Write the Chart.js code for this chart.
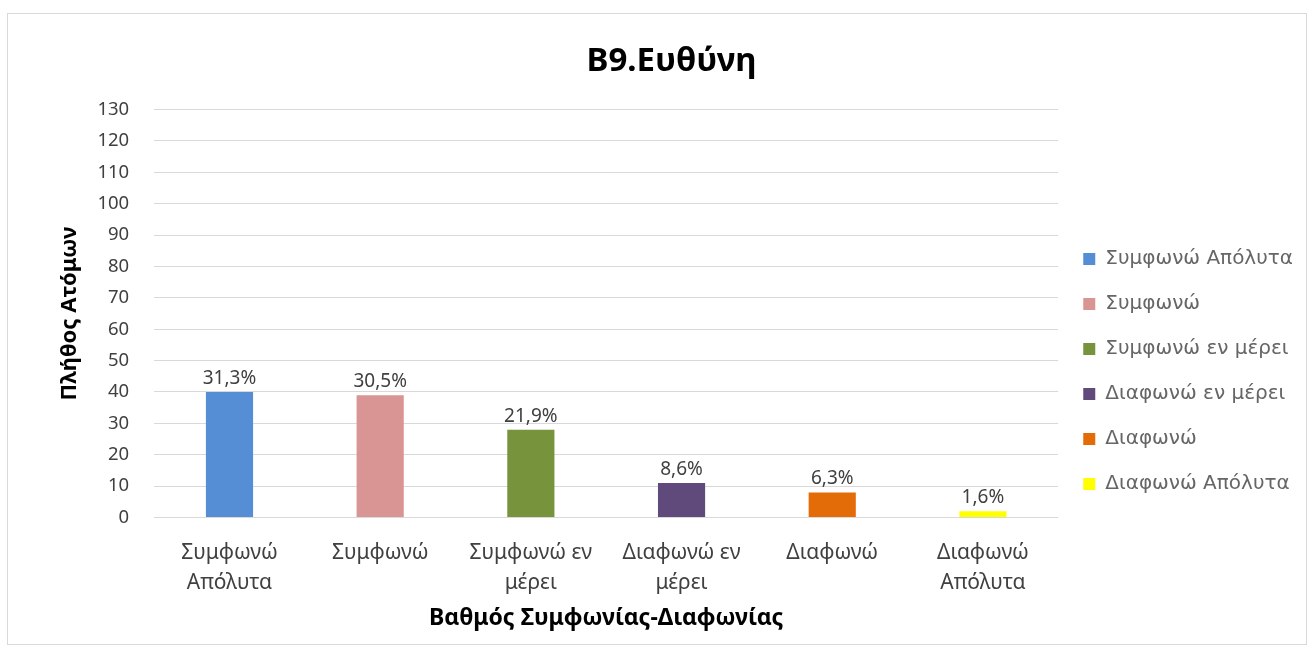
<!DOCTYPE html>
<html>
<head>
<meta charset="utf-8">
<script src="https://cdn.jsdelivr.net/npm/chart.js@4/dist/chart.umd.min.js"></script>
<style>
  html, body { margin: 0; padding: 0; background: #ffffff; }
  #wrap { width: 1314px; height: 652px; position: relative; }
</style>
</head>
<body>
<div id="wrap"><canvas id="c" width="1314" height="652"></canvas></div>
<script>
const chartTitle = 'B9.Ευθύνη';
const categories = [
  ['Συμφωνώ', 'Απόλυτα'],
  ['Συμφωνώ'],
  ['Συμφωνώ εν', 'μέρει'],
  ['Διαφωνώ εν', 'μέρει'],
  ['Διαφωνώ'],
  ['Διαφωνώ', 'Απόλυτα']
];
const legendLabels = ['Συμφωνώ Απόλυτα', 'Συμφωνώ', 'Συμφωνώ εν μέρει', 'Διαφωνώ εν μέρει', 'Διαφωνώ', 'Διαφωνώ Απόλυτα'];
const counts = [40, 39, 28, 11, 8, 2];
const percentLabels = ['31,3%', '30,5%', '21,9%', '8,6%', '6,3%', '1,6%'];
const barColors = ['#558ED5', '#D99594', '#77933C', '#604A7B', '#E36C09', '#FFFF00'];
const yAxisTitle = 'Πλήθος Ατόμων';
const xAxisTitle = 'Βαθμός Συμφωνίας-Διαφωνίας';

const FONT = "'Noto Sans', 'DejaVu Sans', sans-serif";

const frame = {
  id: 'frame',
  beforeDraw(chart) {
    const ctx = chart.ctx;
    ctx.save();
    ctx.fillStyle = '#ffffff';
    ctx.fillRect(0, 0, chart.width, chart.height);
    ctx.strokeStyle = '#d9d9d9';
    ctx.lineWidth = 1;
    ctx.strokeRect(7.5, 13.5, 1299, 631);
    ctx.restore();
  }
};

const valueLabels = {
  id: 'valueLabels',
  afterDatasetsDraw(chart) {
    const ctx = chart.ctx;
    const meta = chart.getDatasetMeta(0);
    ctx.save();
    ctx.font = "19px " + FONT;
    ctx.fillStyle = '#404040';
    ctx.textAlign = 'center';
    ctx.textBaseline = 'bottom';
    meta.data.forEach((bar, i) => {
      ctx.fillText(percentLabels[i], bar.x, bar.y - 4);
    });
    ctx.restore();
  }
};

new Chart(document.getElementById('c'), {
  type: 'bar',
  data: {
    labels: categories,
    datasets: [{
      label: 'Πλήθος',
      data: counts,
      backgroundColor: barColors,
      borderWidth: 0,
      barPercentage: 0.313,
      categoryPercentage: 1.0
    }]
  },
  options: {
    responsive: false,
    animation: false,
    devicePixelRatio: 1,
    layout: { padding: { left: 40, right: 11, top: 20, bottom: 20 } },
    plugins: {
      title: {
        display: true,
        text: chartTitle,
        color: '#000000',
        font: { family: FONT, size: 33, weight: 'bold', lineHeight: 1.2 },
        padding: { top: 22, bottom: 28 }
      },
      legend: {
        display: true,
        position: 'right',
        align: 'start',
        title: { display: true, text: ' ', font: { size: 10, lineHeight: 1 }, padding: { top: 194, bottom: 0 } },
        labels: {
          boxWidth: 12,
          boxHeight: 12,
          padding: 25,
          color: '#000000',
          font: { family: "'DejaVu Sans', sans-serif", size: 20 },
          generateLabels(chart) {
            return legendLabels.map((t, i) => ({
              text: t,
              fillStyle: barColors[i],
              strokeStyle: barColors[i],
              lineWidth: 0,
              hidden: false,
              index: i
            }));
          }
        },
        onClick: null
      },
      tooltip: { enabled: false }
    },
    scales: {
      x: {
        grid: { display: false },
        border: { display: false },
        ticks: {
          color: '#404040',
          font: { family: FONT, size: 21, lineHeight: 1.45 },
          padding: 12,
          maxRotation: 0,
          autoSkip: false
        },
        title: {
          display: true,
          text: xAxisTitle,
          color: '#000000',
          font: { family: FONT, size: 23, weight: 'bold', lineHeight: 1.2 },
          padding: { top: -6, bottom: 0 }
        }
      },
      y: {
        min: 0,
        max: 130,
        grid: { color: '#d9d9d9', lineWidth: 1, drawTicks: false },
        border: { display: false },
        ticks: {
          stepSize: 10,
          color: '#404040',
          font: { family: FONT, size: 18.5 },
          padding: 25
        },
        title: {
          display: true,
          text: yAxisTitle,
          color: '#000000',
          font: { family: FONT, size: 22, weight: 'bold', lineHeight: 1.2 },
          padding: { top: 17, bottom: -11 }
        }
      }
    }
  },
  plugins: [frame, valueLabels]
});
</script>
</body>
</html>
